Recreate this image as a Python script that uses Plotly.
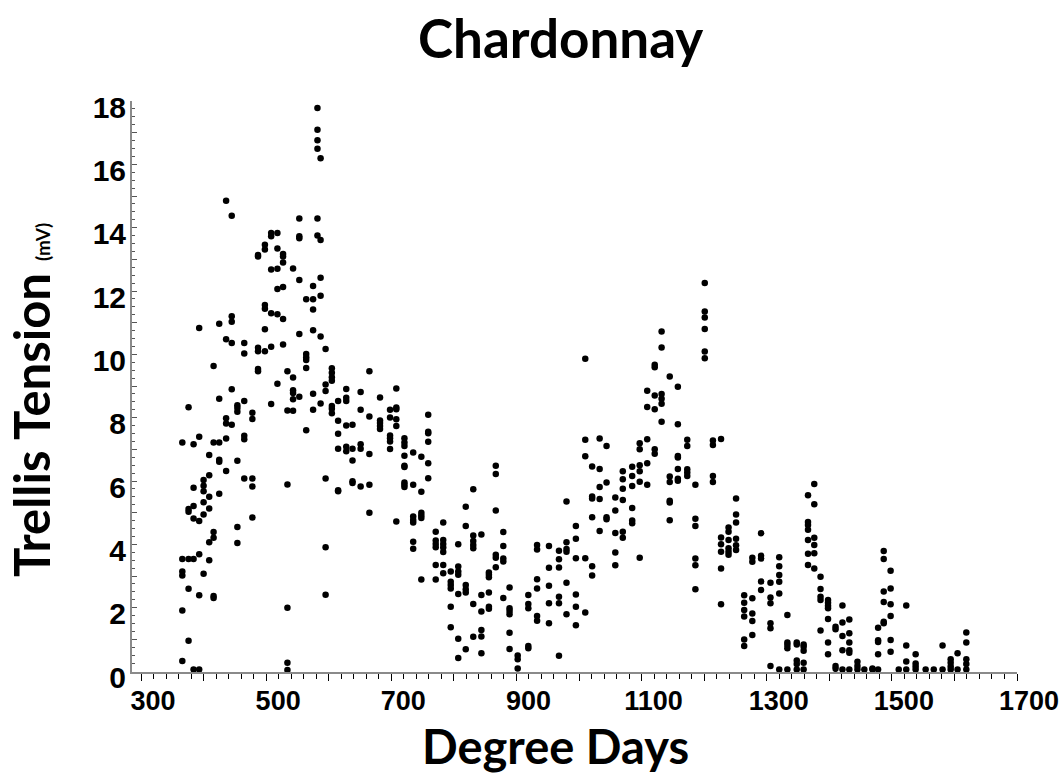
import plotly.graph_objects as go

# ---- data: degree-day columns and the trellis tension readings (mV) at each ----
dd_early = [366, 376, 384, 393, 400, 409, 416, 425, 436, 445, 454, 465, 478, 487, 498,
            508, 518, 527, 534, 543, 553, 564, 575, 582, 587, 595, 605, 615, 628, 638,
            651, 665]
mv_early = [
    [7.22, 3.54, 3.14, 3.02, 1.91, 0.32],
    [8.33, 5.12, 5.03, 3.54, 2.60, 0.96],
    [7.16, 5.79, 5.21, 4.82, 3.54, 0.05],
    [10.83, 7.40, 4.74, 3.69, 2.39, 0.05],
    [6.03, 5.85, 5.68, 5.33, 4.94, 3.07],
    [6.82, 6.18, 5.50, 5.13, 4.07, 3.50],
    [9.63, 7.22, 4.39, 4.21, 2.37, 2.31],
    [10.97, 8.60, 7.22, 6.67, 6.61, 5.60],
    [14.85, 10.48, 7.98, 7.82, 7.34, 6.32],
    [14.38, 11.20, 11.03, 10.36, 8.90, 7.78],
    [8.39, 8.31, 8.19, 6.64, 4.55, 4.04],
    [10.36, 10.03, 8.53, 7.43, 7.32, 6.08],
    [8.16, 7.96, 6.08, 5.83, 4.85],
    [13.14, 13.09, 10.21, 10.10, 9.54, 9.47],
    [13.46, 13.31, 11.56, 11.44, 10.79, 10.10],
    [13.83, 13.73, 12.68, 11.30, 10.24, 8.43],
    [13.83, 13.34, 12.70, 12.06, 11.27, 9.07],
    [13.17, 13.09, 12.90, 12.13, 11.12, 10.31],
    [9.47, 8.23, 5.89, 2.00, 0.26, 0.03],
    [12.71, 9.27, 8.87, 8.78, 8.58, 8.22],
    [14.29, 13.73, 13.67, 12.35, 10.64, 8.66],
    [11.74, 10.01, 9.91, 9.82, 9.57, 7.60],
    [12.16, 11.74, 11.42, 10.76, 8.76, 8.25],
    [17.78, 17.09, 16.76, 16.49, 14.29, 13.75],
    [16.19, 13.61, 12.42, 11.85, 10.56, 8.45],
    [10.17, 9.05, 8.84, 6.08, 3.91, 2.41],
    [9.56, 9.42, 9.28, 9.17, 8.37, 8.28, 8.14],
    [8.53, 7.90, 7.49, 7.02, 5.71, 5.68],
    [8.91, 8.63, 8.53, 7.75, 7.08, 6.94],
    [7.78, 7.02, 6.65, 5.99, 5.94],
    [8.81, 8.25, 7.16, 7.02, 5.83],
    [9.47, 8.04, 6.85, 5.88, 5.00],
]

dd_mid = [682, 698, 708, 721, 735, 748, 759, 771, 783, 795, 807, 819, 831, 844, 856,
          867, 879, 889, 902, 919, 933, 952, 968, 980]
mv_mid = [
    [8.64, 7.91, 7.83, 7.74, 7.64],
    [8.25, 8.01, 7.44, 7.35, 7.25, 7.01],
    [8.92, 8.32, 8.27, 7.95, 7.74, 4.72],
    [7.35, 7.22, 7.11, 6.80, 6.48, 6.44, 5.95, 5.88, 5.81],
    [6.90, 5.88, 4.88, 4.77, 4.69, 4.08, 3.86],
    [6.77, 5.66, 5.00, 4.91, 4.83, 2.89],
    [8.09, 7.56, 7.51, 7.24, 6.56, 6.09],
    [4.40, 4.12, 4.01, 3.91, 3.35, 2.89],
    [4.69, 4.14, 4.01, 3.90, 3.76, 3.35, 3.09],
    [3.14, 2.82, 2.72, 2.61, 2.03, 1.38],
    [4.00, 3.30, 3.14, 3.04, 2.43, 1.02, 0.41],
    [5.19, 4.58, 2.72, 2.58, 2.48, 0.69],
    [5.74, 4.28, 4.11, 3.98, 3.88, 2.12, 1.08],
    [4.31, 2.40, 1.88, 1.30, 1.09, 0.56],
    [3.11, 3.04, 2.96, 2.48, 2.03, 1.97],
    [6.48, 6.22, 5.07, 3.67, 3.58, 3.28],
    [4.39, 3.95, 3.55, 3.46, 2.31],
    [2.64, 1.98, 1.90, 1.79, 1.21, 0.70],
    [0.49, 0.37, 0.08],
    [2.40, 2.12, 1.98, 0.79, 0.72],
    [3.98, 3.84, 2.90, 2.61, 1.74, 1.59],
    [3.95, 3.26, 2.69, 2.14, 1.51],
    [3.80, 3.53, 3.27, 2.35, 2.14, 0.48],
    [5.35, 4.07, 3.85, 3.77, 2.79, 1.79],
]

dd_late = [995, 1010, 1021, 1033, 1044, 1058, 1070, 1085, 1097, 1109, 1121, 1132, 1145,
           1158, 1173, 1186, 1201, 1214, 1227, 1239, 1251, 1264, 1277, 1291, 1306, 1320,
           1333]
mv_late = [
    [4.58, 4.18, 3.56, 2.42, 2.03, 1.45],
    [9.86, 7.30, 6.78, 3.56, 1.85],
    [6.46, 5.51, 5.45, 4.86, 3.31, 3.02],
    [7.34, 6.38, 5.81, 5.43, 4.42],
    [7.11, 5.95, 4.86, 4.79],
    [5.48, 5.07, 4.36, 3.74, 3.34],
    [6.31, 6.06, 5.76, 5.40, 4.40, 4.21],
    [6.45, 6.16, 5.84, 5.15, 4.75, 4.67],
    [7.19, 7.00, 6.50, 6.31, 5.98, 3.58],
    [8.85, 8.34, 7.32, 6.56, 5.88],
    [9.67, 9.59, 8.70, 8.27, 7.00, 6.86],
    [10.72, 10.22, 8.75, 8.60, 8.44, 7.87],
    [9.30, 6.14, 5.97, 5.38, 5.32, 4.76],
    [8.98, 7.79, 6.79, 6.74, 6.38, 6.07, 6.01],
    [7.30, 7.11, 6.37, 6.27, 6.16],
    [5.88, 4.81, 4.58, 3.55, 3.34, 2.58],
    [12.25, 11.35, 11.16, 10.80, 10.09, 9.88],
    [7.28, 7.14, 6.16, 5.97],
    [7.33, 4.22, 4.00, 3.77, 3.24, 2.11],
    [4.53, 4.40, 4.14, 3.88, 3.77, 3.67],
    [5.45, 4.94, 4.69, 4.18, 3.97, 3.82],
    [2.39, 2.16, 1.93, 1.72, 1.00, 0.79],
    [3.58, 3.45, 2.30, 1.82, 1.58, 1.14],
    [4.35, 3.64, 3.55, 2.83, 2.56],
    [2.79, 2.32, 2.14, 1.51, 1.35, 0.16],
    [3.59, 3.31, 3.03, 2.82, 2.45, 0.05],
    [1.77, 0.90, 0.82, 0.72, 0.05],
]

dd_end = [1348, 1359, 1366, 1376, 1386, 1398, 1410, 1421, 1432, 1445, 1456, 1469, 1478,
          1487, 1498, 1511, 1523, 1538, 1554, 1567, 1581, 1594, 1605, 1619]
mv_end = [
    [0.90, 0.84, 0.33, 0.22, 0.05],
    [0.84, 0.77, 0.64, 0.26, 0.05],
    [5.55, 4.71, 4.61, 4.46, 4.14, 3.70, 3.35],
    [5.91, 5.27, 4.21, 3.98, 3.72, 3.24],
    [2.98, 2.59, 2.35, 2.24, 1.28],
    [2.24, 2.16, 2.06, 1.98, 1.64, 0.90, 0.53],
    [1.40, 1.32, 0.16, 0.07],
    [2.07, 1.53, 1.11, 0.66, 0.05],
    [1.63, 1.19, 0.90, 0.66, 0.58, 0.05],
    [0.29, 0.16, 0.05],
    [0.05],
    [0.08, 0.05],
    [1.37, 0.97, 0.92, 0.53, 0.05],
    [3.79, 3.54, 2.51, 2.18, 1.56, 1.51],
    [3.17, 2.61, 2.11, 1.74, 0.98, 0.61],
    [0.05],
    [2.07, 0.81, 0.30, 0.05],
    [0.53, 0.24, 0.14, 0.05],
    [0.05],
    [0.05],
    [0.81, 0.05],
    [0.37, 0.26, 0.14, 0.05],
    [0.56, 0.05],
    [1.22, 0.90, 0.37, 0.22, 0.05],
]

x_tick_values = list(range(300, 1701, 100))
x_tick_labels = [str(v) if (v - 300) % 200 == 0 else "" for v in x_tick_values]
y_tick_values = list(range(0, 19))
y_tick_labels = [str(v) if v % 2 == 0 else "" for v in y_tick_values]

# ---- flatten columns into points ----
xs, ys = [], []
for dds, mvs in ((dd_early, mv_early), (dd_mid, mv_mid), (dd_late, mv_late), (dd_end, mv_end)):
    for d, vals in zip(dds, mvs):
        for v in vals:
            xs.append(d)
            ys.append(v)

fig = go.Figure(go.Scatter(
    x=xs, y=ys, mode="markers",
    marker=dict(color="black", size=6.5, line=dict(width=0)),
    hoverinfo="x+y",
))

axis_grey = "#8a8a8a"
tick_font = "Liberation Sans, Arial, sans-serif"
title_font = "Lato, Open Sans, sans-serif"

W, H = 1060, 773
L, R, T, B = 132, 43, 101, 101
plot_w = W - L - R
plot_h = H - T - B


def px_x(sx):
    return (sx - L) / plot_w


def px_y(sy):
    return (H - B - sy) / plot_h


fig.update_layout(
    width=W, height=H,
    margin=dict(l=L, r=R, t=T, b=B, autoexpand=False),
    paper_bgcolor="white", plot_bgcolor="white",
    showlegend=False,
    xaxis=dict(
        range=[285.6, 1700], showgrid=False, zeroline=False, automargin=False,
        showline=True, linecolor=axis_grey, linewidth=2,
        tickmode="array", tickvals=x_tick_values, ticktext=x_tick_labels,
        ticks="outside", ticklen=7, tickwidth=1, tickcolor="black",
        minor=dict(tickmode="linear", tick0=300, dtick=20, ticks="outside",
                   ticklen=5, tickwidth=1, tickcolor="black"),
        tickfont=dict(family=tick_font, size=27, color="black", weight="bold"),
        ticklabelshift=12, ticklabelstandoff=-3, ticklabeloverflow="allow",
    ),
    yaxis=dict(
        range=[-0.03, 18.0], showgrid=False, zeroline=False, automargin=False,
        showline=True, linecolor=axis_grey, linewidth=2,
        tickmode="array", tickvals=y_tick_values, ticktext=y_tick_labels,
        ticks="inside", ticklen=5, tickwidth=1, tickcolor="#555555",
        minor=dict(tickmode="linear", tick0=0, dtick=0.25, ticks="inside",
                   ticklen=3, tickwidth=1, tickcolor="#555555"),
        tickfont=dict(family=tick_font, size=30, color="black", weight="bold"),
        ticklabelshift=6, ticklabelstandoff=-2, ticklabeloverflow="allow",
    ),
    annotations=[
        dict(text="<b>Chardonnay</b>", xref="paper", yref="paper",
             x=px_x(560), y=px_y(37), xanchor="center", yanchor="middle",
             showarrow=False, font=dict(family=title_font, size=53, color="black")),
        dict(text="<b>Degree Days</b>", xref="paper", yref="paper",
             x=px_x(555), y=px_y(746), xanchor="center", yanchor="middle",
             showarrow=False, font=dict(family=title_font, size=47, color="black")),
        dict(text="<b>Trellis Tension </b><b><span style='font-size:19px'>(mV)</span></b>",
             xref="paper", yref="paper", textangle=-90,
             x=px_x(31), y=px_y(400), xanchor="center", yanchor="middle",
             showarrow=False, font=dict(family=title_font, size=49, color="black")),
    ],
)

# the default page has an 8px body margin; remove it so the figure sits at (0, 0)
fig.write_html(
    "out.html",
    config={"displayModeBar": False},
    post_script="document.body.style.margin='0';document.body.style.overflow='hidden';",
)
